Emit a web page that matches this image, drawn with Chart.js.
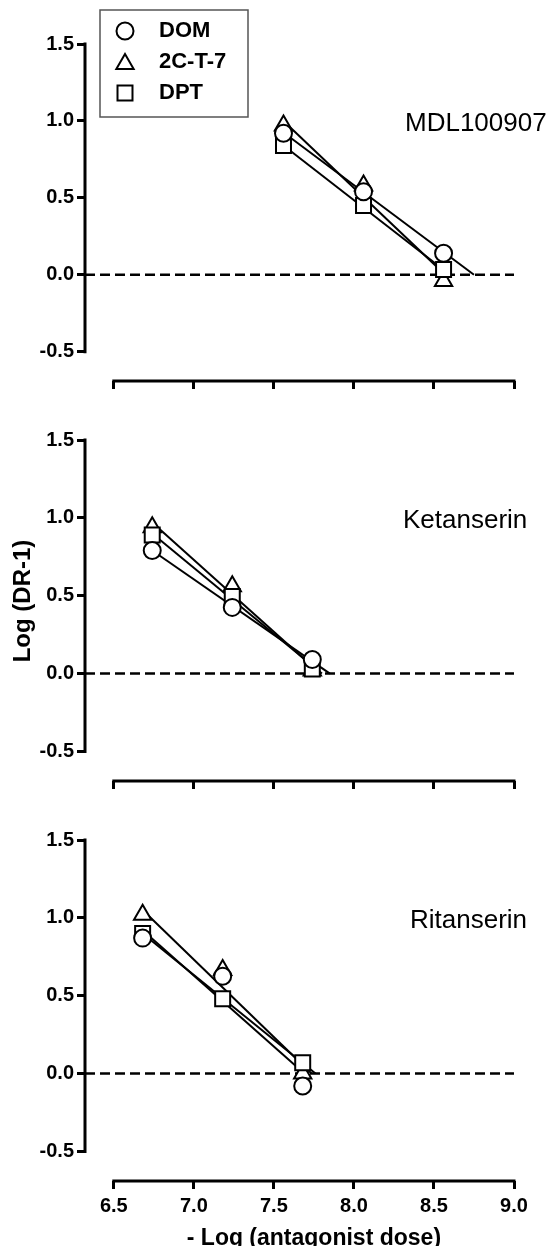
<!DOCTYPE html>
<html>
<head>
<meta charset="utf-8">
<script src="https://cdn.jsdelivr.net/npm/chart.js@4.4.1/dist/chart.umd.min.js"></script>
<style>
  html, body { margin: 0; padding: 0; background: #fff; overflow: hidden; }
  #wrap { position: relative; width: 555px; height: 1246px; overflow: hidden; }
  canvas { position: absolute; left: 0; }
</style>
</head>
<body>
<div id="wrap">
  <canvas id="c1" width="555" height="396" style="top:0px"></canvas>
  <canvas id="c2" width="555" height="400" style="top:396px"></canvas>
  <canvas id="c3" width="555" height="452" style="top:796px"></canvas>
</div>
<script>
/* ---------- DATA ---------- */
const seriesNames = ['DOM', '2C-T-7', 'DPT'];
const xTicks = [6.5, 7.0, 7.5, 8.0, 8.5, 9.0];
const yTicks = [-0.5, 0.0, 0.5, 1.0, 1.5];
const panelNames = ['MDL100907', 'Ketanserin', 'Ritanserin'];

// MDL100907
const mdlDose = [7.56, 8.06, 8.56];
const mdlDOM = [0.92, 0.54, 0.14];
const mdl2CT7 = [0.97, 0.58, -0.04];
const mdlDPT = [0.84, 0.45, 0.035];
const mdlFitStart = [0.925, 1.0, 0.84];   // DOM, 2C-T-7, DPT
const mdlFitZero = [8.75, 8.57, 8.60];

// Ketanserin
const ketDose = [6.74, 7.24, 7.74];
const ketDOM = [0.79, 0.425, 0.09];
const ket2CT7 = [0.94, 0.56, 0.02];
const ketDPT = [0.89, 0.495, 0.03];
const ketFitStart = [0.79, 0.97, 0.90];
const ketFitZero = [7.85, 7.79, 7.80];

// Ritanserin
const ritDose = [6.68, 7.18, 7.68];
const ritDOM = [0.87, 0.625, -0.08];
const rit2CT7 = [1.02, 0.665, 0.0];
const ritDPT = [0.90, 0.48, 0.07];
const ritFitStart = [0.92, 1.05, 0.90];
const ritFitZero = [7.69, 7.735, 7.76];

/* ---------- STYLE ---------- */
const X_MIN = 6.32, X_MAX = 9.0;
const Y_MIN = -0.69, Y_MAX = 1.5;
const FONT = "'Liberation Sans', Arial, Helvetica, sans-serif";
const markers = {
    'DOM': { style: 'circle', r: 8.5 },
    '2C-T-7': { style: 'triangle', r: 10 },
    'DPT': { style: 'rect', r: 10.6 }
};
// DOM on top, then DPT, then 2C-T-7
const markerOrder = { 'DOM': 0, 'DPT': 1, '2C-T-7': 2 };

Chart.defaults.font.family = FONT;
Chart.defaults.color = '#000';

/* ---------- AXIS FRAME PLUGIN ---------- */
const axisFrame = {
    id: 'axisFrame',
    beforeDatasetsDraw(chart) {
        const { ctx, chartArea, scales: { x, y } } = chart;
        ctx.save();
        ctx.strokeStyle = '#000';
        ctx.lineWidth = 3;
        ctx.lineCap = 'square';
        ctx.beginPath();
        ctx.moveTo(chartArea.left, y.getPixelForValue(yTicks[yTicks.length - 1]));
        ctx.lineTo(chartArea.left, y.getPixelForValue(yTicks[0]));
        ctx.moveTo(x.getPixelForValue(xTicks[0]), chartArea.bottom);
        ctx.lineTo(x.getPixelForValue(xTicks[xTicks.length - 1]), chartArea.bottom);
        ctx.stroke();
        ctx.restore();
    }
};

function drawMarker(ctx, style, r, cx, cy) {
    ctx.beginPath();
    if (style === 'circle') {
        ctx.arc(cx, cy, r, 0, Math.PI * 2);
    } else if (style === 'triangle') {
        ctx.moveTo(cx, cy - r);
        ctx.lineTo(cx + r * Math.sin(Math.PI * 2 / 3), cy + r / 2);
        ctx.lineTo(cx - r * Math.sin(Math.PI * 2 / 3), cy + r / 2);
        ctx.closePath();
    } else {
        const s = r * Math.SQRT1_2;
        ctx.rect(cx - s, cy - s, 2 * s, 2 * s);
    }
    ctx.fill();
    ctx.stroke();
}

/* ---------- TEXT / LEGEND PLUGIN ---------- */
const panelText = {
    id: 'panelText',
    afterDraw(chart, args, opts) {
        const { ctx, scales: { x, y } } = chart;
        ctx.save();
        ctx.fillStyle = '#000';
        ctx.textBaseline = 'middle';

        // panel name
        ctx.font = '26px ' + FONT;
        ctx.textAlign = 'left';
        ctx.fillText(opts.name, opts.nameX, y.getPixelForValue(1.0) + 3);

        if (opts.legend) {
            ctx.strokeStyle = '#555';
            ctx.lineWidth = 1.5;
            ctx.strokeRect(100, 10, 148, 107);
            const rows = [31, 61.5, 93];
            ctx.font = 'bold 22px ' + FONT;
            seriesNames.forEach((n, i) => {
                const m = markers[n];
                ctx.fillStyle = '#fff';
                ctx.strokeStyle = '#000';
                ctx.lineWidth = 2;
                drawMarker(ctx, m.style, m.r, 125, rows[i] + (m.style === 'triangle' ? 2.5 : 0));
                ctx.fillStyle = '#000';
                ctx.fillText(n, 159, rows[i]);
            });
        }

        // x title, centred under the drawn axis (6.5 .. 9.0)
        if (opts.xTitle) {
            const cx = (x.getPixelForValue(xTicks[0]) + x.getPixelForValue(xTicks[xTicks.length - 1])) / 2;
            ctx.textAlign = 'center';
            ctx.textBaseline = 'alphabetic';
            ctx.font = 'bold 23px ' + FONT;
            ctx.fillText(opts.xTitle, cx, chart.height - 3);
        }

        if (opts.yTitle) {
            ctx.translate(23, 205);
            ctx.rotate(-Math.PI / 2);
            ctx.textAlign = 'center';
            ctx.textBaseline = 'middle';
            ctx.font = 'bold 24px ' + FONT;
            ctx.fillText(opts.yTitle, 0, 0);
        }
        ctx.restore();
    }
};

/* ---------- BUILD PANEL ---------- */
function makePanel(id, dose, values, fitStart, fitZero, p) {
    const canvas = document.getElementById(id);
    const H = canvas.height;
    const datasets = [];

    seriesNames.forEach((n, i) => {
        const m = markers[n];
        datasets.push({
            label: n,
            data: dose.map((d, k) => ({ x: d, y: values[i][k] })),
            pointStyle: m.style,
            pointRadius: m.r,
            pointBackgroundColor: '#fff',
            pointBorderColor: '#000',
            pointBorderWidth: 2,
            showLine: false,
            order: markerOrder[n]
        });
        datasets.push({
            label: n + ' fit',
            data: [{ x: dose[0], y: fitStart[i] }, { x: fitZero[i], y: 0 }],
            showLine: true,
            borderColor: '#000',
            borderWidth: 2,
            pointRadius: 0,
            order: 3
        });
    });

    datasets.push({
        label: 'zero',
        data: [{ x: X_MIN, y: 0 }, { x: X_MAX, y: 0 }],
        showLine: true,
        borderColor: '#000',
        borderWidth: 2.5,
        borderDash: [10, 5],
        pointRadius: 0,
        order: 4
    });

    return new Chart(canvas, {
        type: 'scatter',
        plugins: [axisFrame, panelText],
        data: { datasets },
        options: {
            responsive: false,
            devicePixelRatio: 1,
            animation: false,
            events: [],
            layout: { padding: { top: 44, right: 41, left: 0, bottom: 0 } },
            plugins: {
                legend: { display: false },
                tooltip: { enabled: false },
                panelText: { name: p.name, nameX: p.nameX, legend: p.legend, yTitle: p.yTitle, xTitle: p.xTitle }
            },
            scales: {
                x: {
                    type: 'linear',
                    min: X_MIN,
                    max: X_MAX,
                    afterBuildTicks: s => { s.ticks = xTicks.map(v => ({ value: v })); },
                    afterFit: s => { s.height = H - 385; },
                    ticks: {
                        autoSkip: false,
                        maxRotation: 0,
                        padding: 5,
                        color: p.xLabels ? '#000' : 'rgba(0,0,0,0)',
                        font: { size: 20, weight: 'bold' },
                        callback: v => v.toFixed(1)
                    },
                    grid: { drawOnChartArea: false, drawTicks: true, tickLength: 8, color: '#000', lineWidth: 3 },
                    border: { display: false }
                },
                y: {
                    type: 'linear',
                    min: Y_MIN,
                    max: Y_MAX,
                    afterBuildTicks: s => { s.ticks = yTicks.map(v => ({ value: v })); },
                    afterFit: s => { s.width = 85; },
                    ticks: {
                        padding: 3,
                        color: '#000',
                        font: { size: 20, weight: 'bold' },
                        callback: v => v.toFixed(1)
                    },
                    grid: { drawOnChartArea: false, drawTicks: true, tickLength: 8, color: '#000', lineWidth: 3 },
                    border: { display: false }
                }
            }
        }
    });
}

makePanel('c1', mdlDose, [mdlDOM, mdl2CT7, mdlDPT], mdlFitStart, mdlFitZero,
    { name: panelNames[0], nameX: 405, legend: true, xLabels: false });
makePanel('c2', ketDose, [ketDOM, ket2CT7, ketDPT], ketFitStart, ketFitZero,
    { name: panelNames[1], nameX: 403, legend: false, xLabels: false, yTitle: 'Log (DR-1)' });
makePanel('c3', ritDose, [ritDOM, rit2CT7, ritDPT], ritFitStart, ritFitZero,
    { name: panelNames[2], nameX: 410, legend: false, xLabels: true, xTitle: '- Log (antagonist dose)' });
</script>
</body>
</html>
